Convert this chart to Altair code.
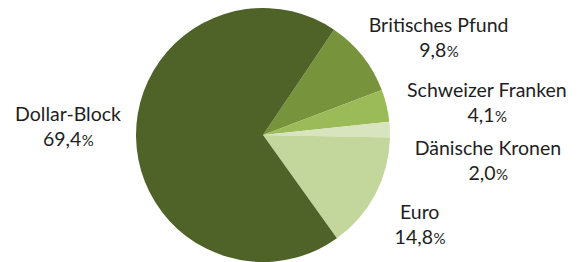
import math
import altair as alt
import pandas as pd

categories = ["Britisches Pfund", "Schweizer Franken", "Dänische Kronen", "Euro", "Dollar-Block"]
shares = [9.8, 4.1, 2.0, 14.8, 69.4]
colors = ["#77933c", "#9bbb59", "#d7e4bd", "#c3d69b", "#4f6228"]

num_labels = [f"{v:.1f}".replace(".", ",") for v in shares]
df = pd.DataFrame({
    "cat": categories,
    "share": shares,
    "order": list(range(len(categories))),
    "num": num_labels,
})

total = sum(shares)
start = math.radians(34.0)
theta_scale = alt.Scale(domain=[0, total], range=[start, start + 2 * math.pi])

CX, CY, R = 255, 127, 127
FONT = "Lato"
FS = 19.5
FS_PCT = 15
TXT = "#1e1e1e"
LH = 25

pie = alt.Chart(df).mark_arc(outerRadius=R, strokeWidth=0).encode(
    theta=alt.Theta("share:Q", stack=True, scale=theta_scale),
    color=alt.Color("cat:N", scale=alt.Scale(domain=categories, range=colors), legend=None),
    order=alt.Order("order:Q"),
    x=alt.value(CX),
    y=alt.value(CY),
)

base = alt.Chart(df).transform_window(
    cum="sum(share)", sort=[alt.SortField("order")], frame=[None, 0]
).transform_calculate(
    mid="datum.cum - datum.share / 2",
    pctsign="'%'",
)

# per-label offsets (style) relative to the slice midpoint at radius 150
offsets = {
    "Britisches Pfund": (58, -10),
    "Schweizer Franken": (78, -3),
    "Dänische Kronen": (75, 26),
    "Euro": (24, 14),
    "Dollar-Block": (-45, -16),
}


def num_width(s):
    w = 0.0
    for ch in s:
        w += 0.22 * FS if ch == "," else 0.58 * FS
    return w


PCT_W = 0.78 * FS_PCT


def text_layer(c, field, dx, dy, align, size):
    return base.transform_filter(alt.datum.cat == c).mark_text(
        align=align, baseline="alphabetic", dx=dx, dy=dy,
        font=FONT, fontSize=size, color=TXT,
    ).encode(
        theta=alt.Theta("mid:Q", scale=theta_scale),
        radius=alt.value(150),
        text=f"{field}:N",
        x=alt.value(CX),
        y=alt.value(CY),
    )


layers = [pie]
for c, n in zip(categories, num_labels):
    dx, dy = offsets[c]
    k = (num_width(n) - PCT_W) / 2
    layers.append(text_layer(c, "cat", dx, dy, "center", FS))
    layers.append(text_layer(c, "num", dx + k, dy + LH, "right", FS))
    layers.append(text_layer(c, "pctsign", dx + k + 0.5, dy + LH, "left", FS_PCT))

chart = alt.layer(*layers).properties(
    width=568, height=254, padding=0, background="white"
).configure_view(stroke=None)

chart.save("out.html", embed_options={"renderer": "svg", "actions": False})
